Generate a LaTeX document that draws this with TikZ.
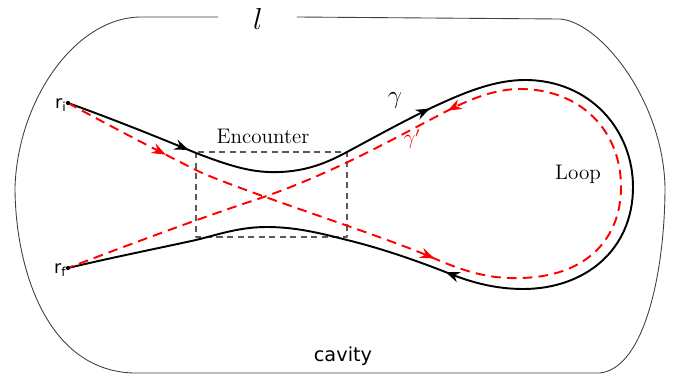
\documentclass[tikz,border=0pt]{standalone}
\usepackage{fontspec}
\newfontfamily\sanslabel{DejaVu Sans}
\usetikzlibrary{arrows.meta,calc,decorations.markings}

\begin{document}
\begin{tikzpicture}[x=0.02cm, y=-0.02cm, >=Stealth, line cap=round, line join=round]

% ---------------- styles ----------------
\tikzset{
  wall/.style={line width=0.5pt, draw=black!75},
  orbit/.style={line width=1.1pt},
  partner/.style={line width=1.1pt, red, dash pattern=on 5.5pt off 3.5pt, line cap=butt},
  encbox/.style={draw=black!65, line width=0.7pt, dash pattern=on 3.5pt off 2.5pt, line cap=butt},
  flow/.style n args={3}{postaction={decorate, decoration={markings,
      mark=at position #1 with {\arrow{Stealth[length=8pt,width=6pt]}},
      mark=at position #2 with {\arrow{Stealth[length=8pt,width=6pt]}},
      mark=at position #3 with {\arrow{Stealth[length=8pt,width=6pt]}}}}},
  txt/.style={font=\large},
  sanslbl/.style={font=\sanslabel\fontsize{10}{11}\selectfont, inner sep=0pt}
}

\useasboundingbox (0,0) rectangle (677,382);

% ---------------- end points ----------------
\coordinate (ri) at (68,103);
\coordinate (rf) at (68,268);

% ---------------- cavity wall (gap for l) ----------------
\draw[wall] (218,17) -- (140,17)
  .. controls (75,18) and (18,100) .. (15,187)
  .. controls (15,265) and (45,370) .. (133,373) -- (600,373)
  .. controls (645,368) and (665,270) .. (665,187)
  .. controls (663,100) and (600,22) .. (560,19) -- (297,17);
\node[font=\LARGE] (len) at (258,19) {$l$};

% ---------------- encounter region ----------------
\draw[encbox] (196,152) rectangle (347,237);
\node[txt] (enc) at (263,136) {Encounter};

% ---------------- orbit gamma ----------------
\draw[orbit, flow={0.1}{0.3}{0.7}] (ri)
  .. controls (110,118) and (160,138) .. (196,153)
  .. controls (235,168) and (255,173) .. (280,172)
  .. controls (305,171) and (325,164) .. (347,152)
  .. controls (375,137) and (400,123) .. (431,108)
  .. controls (465,92) and (495,80) .. (525,80)
  .. controls (590,80) and (633,130) .. (633,187)
  .. controls (633,250) and (585,289) .. (523,289)
  .. controls (495,289) and (470,282) .. (448,273)
  .. controls (415,260) and (380,248) .. (347,240)
  .. controls (320,233) and (295,227) .. (267,227)
  .. controls (240,227) and (220,234) .. (196,240)
  .. controls (150,250) and (110,258) .. (rf);

% ---------------- partner orbit gamma' ----------------
\draw[partner, flow={0.086}{0.31}{0.68}] (ri)
  .. controls (110,126) and (160,152) .. (200,172)
  .. controls (250,194) and (380,235) .. (431,257)
  .. controls (465,272) and (490,279) .. (520,278)
  .. controls (585,277) and (621,240) .. (621,187)
  .. controls (621,130) and (580,89) .. (520,89)
  .. controls (495,89) and (470,99) .. (445,112)
  .. controls (395,138) and (330,175) .. (255,200)
  .. controls (200,218) and (120,248) .. (rf);

\fill (ri) circle (1.2pt);
\fill (rf) circle (1.2pt);

% ---------------- labels ----------------
\node[sanslbl, anchor=base east] (rilbl) at ($(ri)+(-1,5)$) {r\textsubscript{i}};
\node[sanslbl, anchor=base east] (rflbl) at ($(rf)+(-1,5)$) {r\textsubscript{f}};
\node[font=\Large] (gam) at (395,101) {$\gamma$};
\node[font=\large, red] (gamp) at (412,139) {$\gamma'$};
\node[txt] (loop) at (578,174) {Loop};
\node[font=\sanslabel\fontsize{11}{13}\selectfont] (cav) at (343,356) {cavity};

\end{tikzpicture}
\end{document}
